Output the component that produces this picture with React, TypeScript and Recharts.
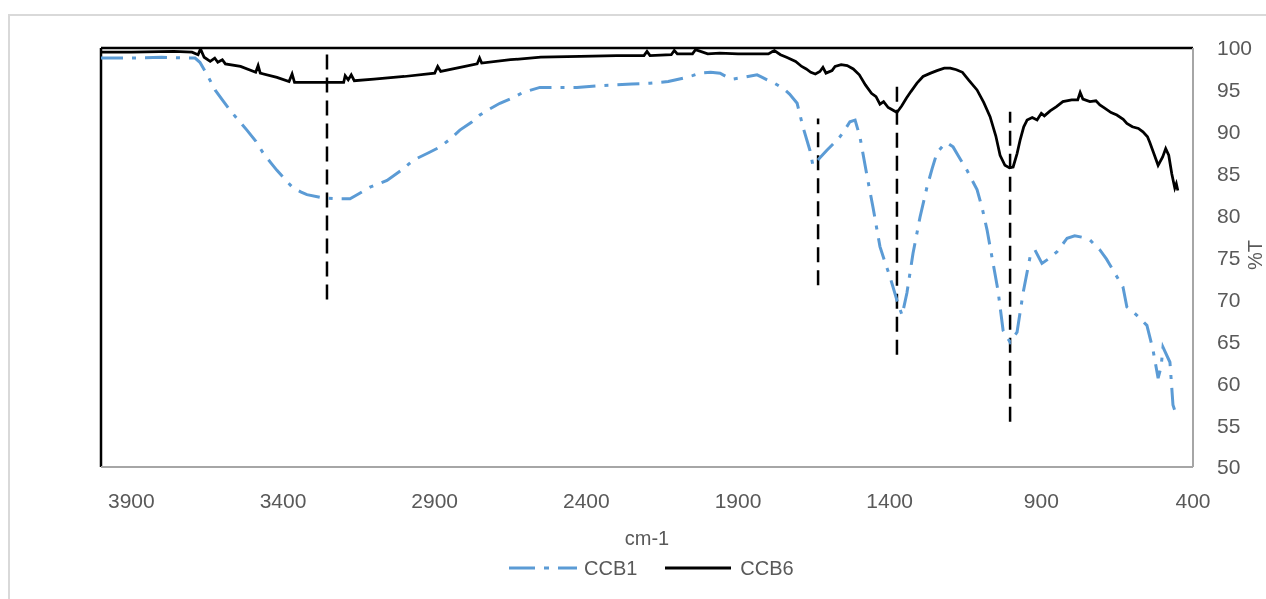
import React from "react";
import { ComposedChart, Line, XAxis, YAxis, ReferenceLine } from "recharts";

// CCB1 spectrum (wavenumber cm-1, %T)
const ccb1Wavenumber = [4000, 3900, 3800, 3716, 3690, 3674, 3650, 3624, 3600, 3575, 3545, 3519, 3490, 3466, 3440, 3420, 3390, 3367, 3340, 3321, 3268, 3220, 3179, 3150, 3113, 3085, 3057, 3010, 2971, 2920, 2882, 2850, 2817, 2780, 2751, 2720, 2685, 2640, 2609, 2553, 2500, 2431, 2360, 2299, 2250, 2190, 2130, 2081, 2050, 2025, 1990, 1959, 1935, 1916, 1880, 1837, 1820, 1804, 1780, 1752, 1730, 1705, 1686, 1663, 1653, 1640, 1630, 1607, 1585, 1564, 1545, 1531, 1514, 1498, 1475, 1455, 1432, 1415, 1399, 1376, 1359, 1343, 1323, 1300, 1277, 1260, 1244, 1225, 1211, 1191, 1170, 1145, 1112, 1095, 1079, 1059, 1043, 1026, 1003, 980, 960, 937, 921, 898, 870, 848, 815, 790, 763, 740, 707, 685, 664, 631, 618, 600, 585, 552, 532, 515, 505, 499, 476, 466, 453];
const ccb1Transmittance = [98.8, 98.8, 98.9, 98.8, 98.8, 98.3, 96.8, 95.0, 93.8, 92.6, 91.3, 90.2, 88.9, 87.5, 86.3, 85.4, 84.2, 83.3, 82.8, 82.5, 82.1, 82.0, 82.0, 82.6, 83.4, 83.8, 84.2, 85.4, 86.6, 87.5, 88.2, 89.1, 90.2, 91.1, 92.0, 92.7, 93.4, 94.1, 94.7, 95.3, 95.3, 95.3, 95.5, 95.6, 95.7, 95.8, 96.0, 96.4, 96.7, 97.0, 97.1, 97.0, 96.5, 96.3, 96.5, 96.8, 96.5, 96.2, 95.8, 95.2, 94.5, 93.4, 90.6, 87.8, 86.0, 86.5, 86.9, 87.8, 88.6, 89.4, 90.4, 91.2, 91.4, 89.4, 84.8, 81.0, 76.3, 74.4, 72.7, 69.9, 68.1, 70.8, 75.5, 79.8, 83.4, 85.6, 87.5, 88.3, 88.7, 88.2, 86.9, 85.4, 83.1, 80.9, 78.3, 74.3, 71.1, 66.3, 64.9, 66.1, 70.8, 75.1, 75.9, 74.3, 75.0, 75.7, 77.3, 77.6, 77.4, 77.1, 75.9, 74.8, 73.5, 71.5, 69.1, 68.6, 68.1, 66.9, 64.0, 60.6, 62.0, 64.3, 62.5, 57.4, 56.0];

// CCB6 spectrum (wavenumber cm-1, %T)
const ccb6Wavenumber = [4000, 3900, 3760, 3700, 3680, 3672, 3660, 3640, 3625, 3615, 3600, 3590, 3540, 3490, 3482, 3475, 3420, 3380, 3370, 3362, 3300, 3200, 3195, 3185, 3175, 3165, 3100, 3000, 2900, 2890, 2880, 2800, 2760, 2752, 2745, 2650, 2550, 2420, 2300, 2210, 2200, 2190, 2120, 2110, 2100, 2050, 2040, 2000, 1960, 1900, 1800, 1780, 1760, 1740, 1710, 1690, 1675, 1660, 1645, 1630, 1620, 1610, 1590, 1580, 1560, 1540, 1520, 1500, 1480, 1460, 1445, 1432, 1420, 1405, 1390, 1376, 1360, 1345, 1330, 1310, 1290, 1265, 1244, 1220, 1200, 1180, 1160, 1140, 1112, 1090, 1069, 1050, 1036, 1020, 1005, 993, 980, 970, 958, 947, 930, 914, 900, 890, 871, 850, 829, 800, 780, 772, 763, 740, 720, 707, 690, 670, 651, 630, 618, 600, 580, 565, 550, 542, 530, 515, 500, 490, 480, 470, 460, 455, 450];
const ccb6Transmittance = [99.5, 99.5, 99.6, 99.5, 99.2, 99.9, 98.9, 98.4, 98.8, 98.3, 98.6, 98.1, 97.8, 97.1, 97.9, 97.0, 96.5, 96.0, 96.9, 95.9, 95.9, 95.9, 96.7, 96.2, 96.8, 96.1, 96.3, 96.6, 97.0, 97.8, 97.2, 97.8, 98.1, 98.8, 98.2, 98.6, 98.9, 99.0, 99.1, 99.1, 99.6, 99.1, 99.2, 99.7, 99.3, 99.3, 99.8, 99.3, 99.4, 99.3, 99.3, 99.7, 99.2, 98.9, 98.4, 97.8, 97.5, 97.1, 96.9, 97.2, 97.7, 97.0, 97.3, 97.8, 98.0, 97.9, 97.5, 96.8, 95.6, 94.6, 94.2, 93.3, 93.6, 92.9, 92.6, 92.3, 93.1, 94.0, 94.8, 95.8, 96.6, 97.0, 97.3, 97.6, 97.6, 97.4, 97.1, 96.2, 95.0, 93.5, 91.8, 89.5, 87.2, 86.0, 85.7, 85.8, 87.4, 89.0, 90.6, 91.4, 91.7, 91.4, 92.2, 91.9, 92.5, 93.0, 93.6, 93.8, 93.8, 94.7, 93.9, 93.6, 93.7, 93.2, 92.8, 92.3, 92.0, 91.5, 91.0, 90.6, 90.4, 90.0, 89.4, 88.7, 87.5, 86.0, 87.0, 88.0, 87.2, 85.0, 83.3, 83.8, 83.0];

// Dashed peak markers
const markerWavenumber = [3255, 1636, 1376, 1003];
const markerTop = [99.5, 91.6, 96.2, 92.4];
const markerBottom = [70.0, 71.7, 63.4, 55.4];

const xTicks = [400, 900, 1400, 1900, 2400, 2900, 3400, 3900];
const yTicks = [50, 55, 60, 65, 70, 75, 80, 85, 90, 95, 100];

const seriesNames = ["CCB1", "CCB6"];
const BLUE = "#5B9BD5";
const FONT = "'Liberation Sans', Arial, sans-serif";
const TEXT = "#595959";

const ccb1Data = ccb1Wavenumber.map((w, i) => ({ w, t: ccb1Transmittance[i] }));
const ccb6Data = ccb6Wavenumber.map((w, i) => ({ w, t: ccb6Transmittance[i] }));

export default function App() {
  return (
    <div style={{ position: "relative", width: 1250, height: 583, fontFamily: FONT }}>
      <div
        style={{
          position: "fixed",
          left: 8,
          top: 14,
          width: 2000,
          height: 2000,
          borderLeft: "2px solid #d9d9d9",
          borderTop: "2px solid #d9d9d9",
          pointerEvents: "none",
        }}
      />
      <ComposedChart
        width={1250}
        height={583}
        margin={{ top: 40, right: 5, left: 93, bottom: 94 }}
      >
        <XAxis
          dataKey="w"
          type="number"
          domain={[400, 4000]}
          reversed
          ticks={xTicks}
          allowDataOverflow
          height={30}
          tickLine={false}
          tickSize={6}
          tickMargin={20}
          axisLine={{ stroke: "#a6a6a6", strokeWidth: 2 }}
          tick={{ fill: TEXT, fontSize: 21, fontFamily: FONT }}
        />
        <YAxis
          orientation="right"
          type="number"
          domain={[50, 100]}
          ticks={yTicks}
          allowDataOverflow
          width={60}
          tickLine={false}
          tickSize={6}
          tickMargin={18}
          axisLine={{ stroke: "#a6a6a6", strokeWidth: 2 }}
          tick={{ fill: TEXT, fontSize: 21, fontFamily: FONT, textAnchor: "start" }}
        />
        <ReferenceLine y={100} stroke="#000" strokeWidth={2.5} />
        <ReferenceLine x={4000} stroke="#000" strokeWidth={2.5} />
        {markerWavenumber.map((x, i) => (
          <ReferenceLine
            key={i}
            segment={[
              { x, y: markerBottom[i] },
              { x, y: markerTop[i] },
            ]}
            stroke="#000"
            strokeWidth={2.5}
            strokeDasharray="15 8"
          />
        ))}
        <Line
          data={ccb1Data}
          dataKey="t"
          name={seriesNames[0]}
          stroke={BLUE}
          strokeWidth={3}
          strokeDasharray="22 9 4 9"
          dot={false}
          isAnimationActive={false}
          type="linear"
        />
        <Line
          data={ccb6Data}
          dataKey="t"
          name={seriesNames[1]}
          stroke="#000"
          strokeWidth={2.75}
          dot={false}
          isAnimationActive={false}
          type="linear"
        />
      </ComposedChart>
      {/* y-axis title */}
      <div
        style={{
          position: "fixed",
          left: 1243,
          top: 240,
          writingMode: "vertical-rl",
          transform: "rotate(180deg)",
          color: TEXT,
          fontSize: 20,
          lineHeight: "24px",
          whiteSpace: "nowrap",
          fontFamily: FONT,
        }}
      >
        %T
      </div>
      {/* x-axis title */}
      <div
        style={{
          position: "absolute",
          left: 639,
          top: 530,
          transform: "translate(-50%, -50%)",
          color: TEXT,
          fontSize: 20,
        }}
      >
        cm-1
      </div>
      {/* legend */}
      <div
        style={{
          position: "absolute",
          left: 501,
          top: 548,
          height: 24,
          display: "flex",
          alignItems: "center",
          color: TEXT,
          fontSize: 20,
        }}
      >
        <svg width={68} height={10} style={{ marginRight: 7 }}>
          <line x1={0} y1={5} x2={68} y2={5} stroke={BLUE} strokeWidth={3} strokeDasharray="26 9 5 9" />
        </svg>
        <span style={{ marginRight: 28 }}>{seriesNames[0]}</span>
        <svg width={66} height={10} style={{ marginRight: 9 }}>
          <line x1={0} y1={5} x2={66} y2={5} stroke="#000" strokeWidth={3} />
        </svg>
        <span>{seriesNames[1]}</span>
      </div>
    </div>
  );
}
